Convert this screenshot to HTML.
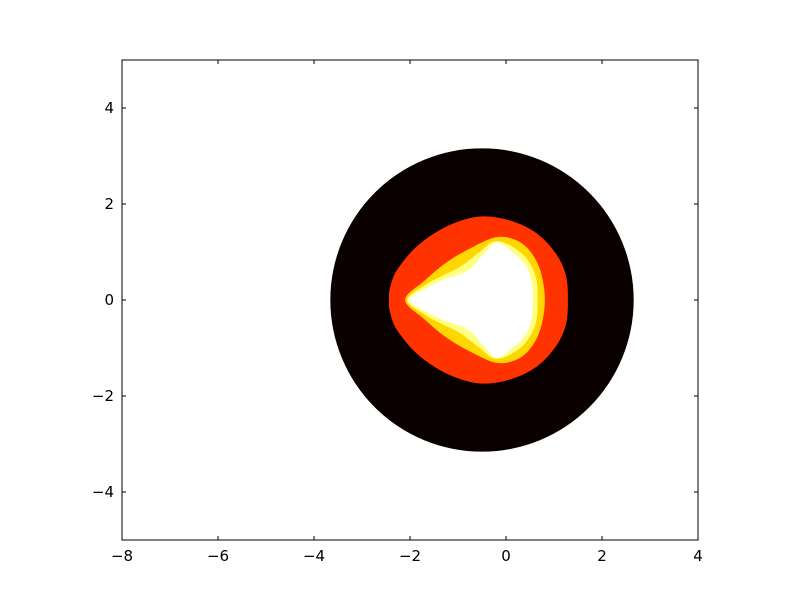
<!DOCTYPE html>
<html><head><meta charset="utf-8"><style>
body{margin:0;background:#fff}
svg text{font-family:"DejaVu Sans","Liberation Sans",sans-serif;font-size:15px;fill:#000}
</style></head><body>
<svg id="chart" width="800" height="600" viewBox="0 0 800 600" xmlns="http://www.w3.org/2000/svg">
<rect width="800" height="600" fill="#fff"/>
<g id="plot"></g>
<rect x="122" y="60" width="576" height="480" fill="none" stroke="#000" stroke-width="1"/>
<g id="axes"></g>
</svg>
<script>
const xTicks=[-8,-6,-4,-2,0,2,4];
const yTicks=[-4,-2,0,2,4];
const diskCenter=[-0.5,0];
const diskRadius=3.16;
// contour levels: upper half boundary points (x,y); mirrored for lower half
const redLevel=[[-2.44,0],[-2.41,0.28],[-2.26,0.64],[-1.82,1.15],[-1.2,1.55],[-0.54,1.74],[0.1,1.65],[0.65,1.38],[1.05,0.95],[1.25,0.5],[1.29,0]];
const goldLevel=[[-2.1,0],[-1.7,0.4],[-1.23,0.79],[-0.7,1.1],[-0.2,1.31],[0.2,1.25],[0.5,1.02],[0.72,0.6],[0.81,0]];
const lightLevel=[[-2.06,0],[-1.7,0.3],[-1.38,0.48],[-0.96,0.69],[-0.55,1.0],[-0.27,1.21],[0.02,1.17],[0.4,0.9],[0.62,0.48],[0.66,0]];
const whiteLevel=[[-2.02,0],[-1.65,0.25],[-1.31,0.42],[-0.96,0.54],[-0.71,0.68],[-0.45,0.98],[-0.23,1.19],[-0.06,1.15],[0.35,0.8],[0.52,0.46],[0.56,0]];
const levelColors=["#ff3300","#ffd700","#ffff80","#ffffff"];

const X0=122,X1=698,Y0=60,Y1=540;
const sx=v=>X0+(v+8)/12*(X1-X0);
const sy=v=>Y1-(v+5)/10*(Y1-Y0);
const NS="http://www.w3.org/2000/svg";
const plot=document.getElementById('plot'),axes=document.getElementById('axes');

const disk=document.createElementNS(NS,'circle');
disk.setAttribute('cx',sx(diskCenter[0]));disk.setAttribute('cy',sy(diskCenter[1]));
disk.setAttribute('r',sx(diskRadius)-sx(0));disk.setAttribute('fill','#0b0000');


plot.appendChild(disk);

function closedPts(half){
  const pts=half.map(p=>[p[0],p[1]]);
  for(let i=half.length-2;i>=1;i--)pts.push([half[i][0],-half[i][1]]);
  return pts.map(p=>[sx(p[0]),sy(p[1])]);
}
function smoothPath(P){
  const n=P.length;let d=`M${P[0][0]},${P[0][1]}`;
  for(let i=0;i<n;i++){
    const p0=P[(i-1+n)%n],p1=P[i],p2=P[(i+1)%n],p3=P[(i+2)%n];
    const c1=[p1[0]+(p2[0]-p0[0])/6,p1[1]+(p2[1]-p0[1])/6];
    const c2=[p2[0]-(p3[0]-p1[0])/6,p2[1]-(p3[1]-p1[1])/6];
    d+=`C${c1[0]},${c1[1]} ${c2[0]},${c2[1]} ${p2[0]},${p2[1]}`;
  }
  return d+'Z';
}
const levels=[redLevel,goldLevel,lightLevel,whiteLevel];
const names=['red-contour','gold-contour','light-yellow-contour','white-contour'];
levels.forEach((lv,i)=>{
  const p=document.createElementNS(NS,'path');
  p.setAttribute('d',smoothPath(closedPts(lv)));
  p.setAttribute('fill',levelColors[i]);
  
  
  plot.appendChild(p);
});

function line(x1,y1,x2,y2){
  const l=document.createElementNS(NS,'line');
  l.setAttribute('x1',x1);l.setAttribute('y1',y1);l.setAttribute('x2',x2);l.setAttribute('y2',y2);
  l.setAttribute('stroke','#000');l.setAttribute('stroke-width','1');
  
  
  axes.appendChild(l);
}
function label(x,y,t,anchor){
  const e=document.createElementNS(NS,'text');
  e.setAttribute('x',x);e.setAttribute('y',y);e.setAttribute('text-anchor',anchor);
  e.textContent=t;
  
  
  axes.appendChild(e);
}
const fmt=v=>v<0?'\u2212'+Math.abs(v):String(v);
xTicks.forEach(v=>{const x=sx(v);line(x,Y1,x,Y1-4);line(x,Y0,x,Y0+4);label(x,Y1+21,fmt(v),'middle');});
yTicks.forEach(v=>{const y=sy(v);line(X0,y,X0+4,y);line(X1,y,X1-4,y);label(X0-8,y+5,fmt(v),'end');});
</script>
</body></html>
